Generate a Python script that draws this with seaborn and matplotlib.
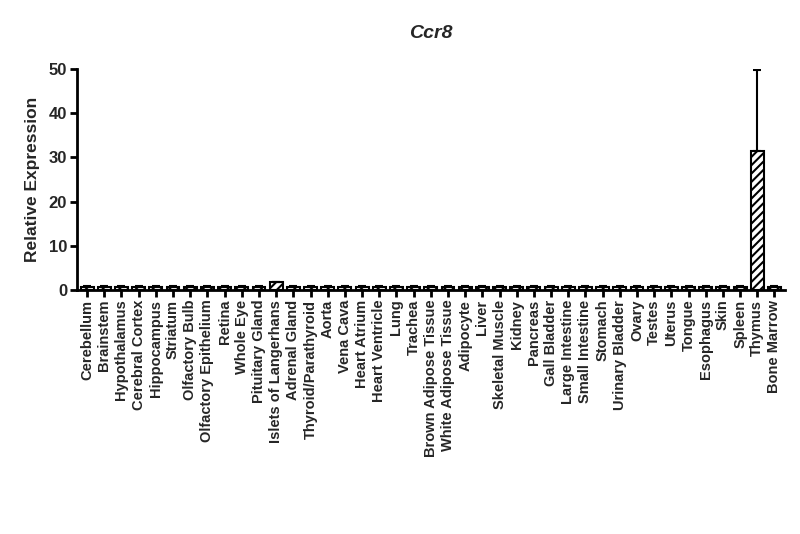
import numpy as np
import pandas as pd
import matplotlib
matplotlib.use("Agg")
import matplotlib.pyplot as plt
import seaborn as sns

tissues = [
    "Cerebellum", "Brainstem", "Hypothalamus", "Cerebral Cortex", "Hippocampus",
    "Striatum", "Olfactory Bulb", "Olfactory Epithelium", "Retina", "Whole Eye",
    "Pituitary Gland", "Islets of Langerhans", "Adrenal Gland", "Thyroid/Parathyroid",
    "Aorta", "Vena Cava", "Heart Atrium", "Heart Ventricle", "Lung", "Trachea",
    "Brown Adipose Tissue", "White Adipose Tissue", "Adipocyte", "Liver",
    "Skeletal Muscle", "Kidney", "Pancreas", "Gall Bladder", "Large Intestine",
    "Small Intestine", "Stomach", "Urinary Bladder", "Ovary", "Testes", "Uterus",
    "Tongue", "Esophagus", "Skin", "Spleen", "Thymus", "Bone Marrow",
]
expression = [
    0.6, 0.6, 0.6, 0.6, 0.6,
    0.6, 0.6, 0.6, 0.6, 0.6,
    0.6, 1.7, 0.6, 0.6,
    0.6, 0.6, 0.6, 0.6, 0.6, 0.6,
    0.6, 0.6, 0.6, 0.6,
    0.6, 0.6, 0.6, 0.6, 0.6,
    0.6, 0.6, 0.6, 0.6, 0.6, 0.6,
    0.6, 0.6, 0.6, 0.6, 31.5, 0.6,
]
sem = [
    0.3, 0.3, 0.3, 0.3, 0.3,
    0.3, 0.3, 0.3, 0.3, 0.3,
    0.3, 0.2, 0.3, 0.3,
    0.3, 0.3, 0.3, 0.3, 0.3, 0.3,
    0.3, 0.3, 0.3, 0.3,
    0.3, 0.3, 0.3, 0.3, 0.3,
    0.3, 0.3, 0.3, 0.3, 0.3, 0.3,
    0.3, 0.3, 0.3, 0.3, 18.3, 0.3,
]

df = pd.DataFrame({"tissue": tissues, "expr": expression, "sem": sem})

sns.set_theme(style="white")
plt.rcParams["font.family"] = ["Liberation Sans", "DejaVu Sans"]
plt.rcParams["hatch.linewidth"] = 1.5

fig = plt.figure(figsize=(8, 5.34), dpi=100)
ax = fig.add_axes([0.096, 0.457, 0.885, 0.414])

sns.barplot(data=df, x="tissue", y="expr", color="white", edgecolor="black",
            linewidth=1.5, width=0.75, errorbar=None, ax=ax)
for bar in ax.patches:
    bar.set_hatch("////")

ax.errorbar(np.arange(len(tissues)), df["expr"],
            yerr=[np.zeros(len(sem)), df["sem"]], fmt="none",
            ecolor="black", elinewidth=1.5, capsize=3, capthick=1.5)

ax.set_xlim(-0.6, len(tissues) - 0.4)
ax.set_ylim(0, 50)
ax.set_yticks([0, 10, 20, 30, 40, 50])
ax.set_xlabel("")
ax.set_ylabel("Relative Expression", fontsize=12.5, fontweight="bold", labelpad=6)
ax.set_title("Ccr8", fontsize=14, fontweight="bold", style="italic", pad=22)

sns.despine(ax=ax)
for side in ["left", "bottom"]:
    ax.spines[side].set_linewidth(2)
    ax.spines[side].set_color("black")

ax.tick_params(axis="both", direction="out", length=5, width=2, color="black",
               bottom=True, left=True, pad=2)
plt.setp(ax.get_xticklabels(), rotation=90, fontsize=10.5, fontweight="bold")
plt.setp(ax.get_yticklabels(), fontsize=12, fontweight="bold")

fig.savefig("out.png", dpi=100, facecolor="white")
